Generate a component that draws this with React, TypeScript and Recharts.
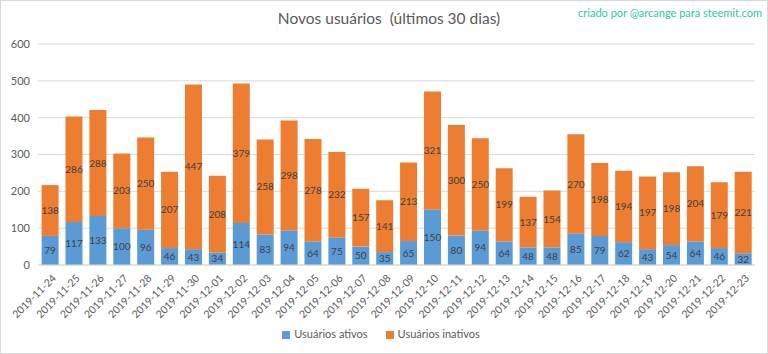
import { BarChart, Bar, XAxis, YAxis, CartesianGrid, Legend, LabelList } from 'recharts'

const days = [
  '2019-11-24', '2019-11-25', '2019-11-26', '2019-11-27', '2019-11-28', '2019-11-29',
  '2019-11-30', '2019-12-01', '2019-12-02', '2019-12-03', '2019-12-04', '2019-12-05',
  '2019-12-06', '2019-12-07', '2019-12-08', '2019-12-09', '2019-12-10', '2019-12-11',
  '2019-12-12', '2019-12-13', '2019-12-14', '2019-12-15', '2019-12-16', '2019-12-17',
  '2019-12-18', '2019-12-19', '2019-12-20', '2019-12-21', '2019-12-22', '2019-12-23'
]

const activeUsers = [
  79, 117, 133, 100, 96, 46, 43, 34, 114, 83, 94, 64, 75, 50, 35,
  65, 150, 80, 94, 64, 48, 48, 85, 79, 62, 43, 54, 64, 46, 32
]

const inactiveUsers = [
  138, 286, 288, 203, 250, 207, 447, 208, 379, 258, 298, 278, 232, 157, 141,
  213, 321, 300, 250, 199, 137, 154, 270, 198, 194, 197, 198, 204, 179, 221
]

const yTicks = [0, 100, 200, 300, 400, 500, 600]

const data = days.map((day, i) => ({
  day,
  ativos: activeUsers[i],
  inativos: inactiveUsers[i]
}))

const FONT = 'Lato, "Open Sans", sans-serif'

// rotated date labels, anchored at their top-right end
function DateTick({ x, y, payload }: any) {
  return (
    <text
      x={x + 4}
      y={y + 3}
      transform={`rotate(-45, ${x + 4}, ${y + 3})`}
      textAnchor="end"
      fontSize={10.5}
      fontFamily={FONT}
      fill="#595959"
      dy={4}
    >
      {payload.value}
    </text>
  )
}

export default function App() {
  return (
    <div
      style={{
        position: 'absolute',
        left: 0,
        top: 0,
        width: 766,
        height: 352,
        border: '1px solid #d9d9d9',
        background: '#fff',
        fontFamily: FONT
      }}
    >
      <div
        style={{
          position: 'absolute',
          top: 8,
          left: 0,
          width: 776,
          textAlign: 'center',
          fontSize: 15.5,
          color: '#595959',
          whiteSpace: 'pre'
        }}
      >
        {'Novos usuários  (últimos 30 dias)'}
      </div>
      <div
        style={{
          position: 'absolute',
          top: 5,
          right: 5,
          fontSize: 11,
          color: '#1fc9a0'
        }}
      >
        criado por @arcange para steemit.com
      </div>
      <BarChart
        width={766}
        height={352}
        data={data}
        margin={{ top: 43, right: 12, bottom: 13, left: 0 }}
        barCategoryGap="15%"
      >
        <CartesianGrid vertical={false} stroke="#d9d9d9" />
        <XAxis
          dataKey="day"
          interval={0}
          height={62}
          tick={<DateTick />}
          tickLine={false}
          axisLine={{ stroke: '#d9d9d9' }}
        />
        <YAxis
          domain={[0, 600]}
          ticks={yTicks}
          width={37}
          axisLine={false}
          tickLine={false}
          tick={{ fontSize: 11, fill: '#595959', fontFamily: FONT }}
        />
        <Legend
          verticalAlign="bottom"
          iconType="square"
          iconSize={8}
          wrapperStyle={{ fontSize: 11, fontFamily: FONT, color: '#595959', paddingLeft: 24, boxSizing: 'border-box' }}
          formatter={(value) => <span style={{ color: '#595959', marginRight: 8 }}>{value}</span>}
        />
        <Bar dataKey="ativos" name="Usuários ativos" stackId="a" fill="#5b9bd5" isAnimationActive={false}>
          <LabelList dataKey="ativos" position="center" fontSize={10} fill="#404040" fontFamily={FONT} />
        </Bar>
        <Bar dataKey="inativos" name="Usuários inativos" stackId="a" fill="#ed7d31" isAnimationActive={false}>
          <LabelList dataKey="inativos" position="center" fontSize={10} fill="#404040" fontFamily={FONT} />
        </Bar>
      </BarChart>
    </div>
  )
}
